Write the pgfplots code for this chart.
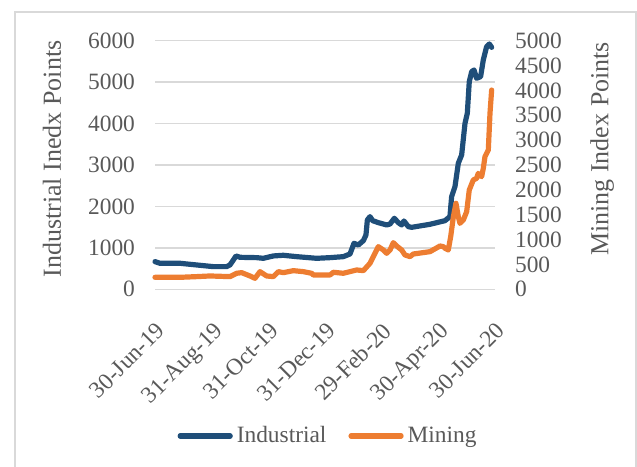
\documentclass[border=0pt]{standalone}
\usepackage{fontspec}
\setmainfont{Liberation Serif}
\usepackage{pgfplots}
\pgfplotsset{compat=1.18}
\definecolor{indblue}{HTML}{1F4E79}
\definecolor{minorange}{HTML}{ED7D31}
\definecolor{lblgrey}{HTML}{595959}
\definecolor{gridgrey}{HTML}{D9D9D9}

\begin{document}
\begin{tikzpicture}
\path[use as bounding box] (0,0) rectangle (318.5pt,233pt);
\draw[gridgrey, line width=1pt] (7.5pt,-5pt) rectangle (318pt,227pt);
\pgfplotsset{
  base/.style={
    scale only axis, width=170pt, height=124.3pt,
    at={(77.5pt,88.35pt)}, anchor=south west,
    xmin=0, xmax=366, ymin=0,
    axis line style={draw=none}, tick style={draw=none},
    ticklabel style={font=\fontsize{11.7}{14}\selectfont, text=lblgrey},
    /pgf/number format/assume math mode=true,
    /pgf/number format/1000 sep={},
    label style={font=\fontsize{13}{15}\selectfont, text=lblgrey},
    clip=false,
  },
  ser/.style={line width=2.6pt, line join=round, line cap=round, mark=none},
}
% left axis: Industrial
\begin{axis}[base,
  ymax=6000, ytick={0,1000,...,6000},
  ymajorgrids, grid style={gridgrey, line width=0.75pt},
  xtick={0,62,123,184,244,305,366},
  xticklabels={30-Jun-19,31-Aug-19,31-Oct-19,31-Dec-19,29-Feb-20,30-Apr-20,30-Jun-20},
  xticklabel style={yshift=-11pt, rotate=45, anchor=north east},
  yticklabel style={xshift=-6.5pt},
  ylabel={Industrial Inedx Points},
  ylabel style={at={(axis description cs:-0.303,0.524)}, anchor=center},
]
\addplot[ser, indblue] coordinates {
(0,668)(5.4,628)(26.9,628)(44.9,587)(62.8,547)(77.1,547)(80.7,587)(87.2,805)
(91.5,772)(109.4,764)(116.6,748)(127.4,805)(138.1,821)(152.5,788)(174,748)
(188.4,764)(202.7,788)(209.9,853)(214.2,1110)(218.9,1070)(224.3,1175)(227.1,1311)
(228.6,1673)(231.4,1754)(234.3,1657)(240.4,1609)(249.4,1553)(253,1577)(257.6,1714)
(261.9,1609)(265.5,1553)(268,1649)(272.7,1512)(276.3,1496)(296,1569)(312.2,1657)
(317.5,1754)(319.3,2236)(322.9,2478)(326.5,3041)(330.1,3242)(333.7,4006)(336.2,4248)
(338.3,5012)(340.9,5253)(343.4,5294)(346.2,5092)(350.5,5133)(353.4,5535)(357,5857)
(359.9,5921)(362.4,5840)};
\end{axis}
% right axis: Mining
\begin{axis}[base,
  axis x line=none, xtick=\empty,
  axis y line*=right,
  ymax=5000, ytick={0,500,...,5000},
  yticklabel style={xshift=6.5pt},
  ylabel={Mining Index Points},
  ylabel style={at={(axis description cs:1.315,0.565)}, anchor=center},
  legend image code/.code={\draw[#1] (0pt,0pt) -- (25pt,0pt);},
  legend style={at={(axis description cs:0.512,-0.59)}, anchor=center,
    draw=none, fill=none, legend columns=2,
    font=\fontsize{11.7}{14}\selectfont, text=lblgrey,
    /tikz/every even column/.append style={column sep=9pt},
    /tikz/every odd column/.append style={column sep=0pt}},
]
\addlegendimage{ser, indblue}
\addlegendentry{Industrial}
\addplot[ser, minorange] coordinates {
(0,241)(26.9,241)(44.9,255)(59.2,268)(80.7,255)(87.9,322)(93.3,335)(102.3,268)
(107.6,221)(113,355)(120.2,268)(127.4,255)(132.8,355)(138.1,335)(148.9,375)
(159.7,355)(168.6,322)(170.4,288)(188.4,288)(192,342)(202.7,322)(217.1,389)
(224.3,375)(231.4,523)(236.8,724)(240.4,858)(245.8,791)(249.4,724)(253,791)
(256.5,938)(260.1,871)(265.5,791)(269.1,690)(274.5,657)(278.1,710)(296,757)
(306.8,871)(310.4,858)(312.2,824)(315.7,791)(318.3,1059)(321.2,1461)(324,1729)
(326.5,1461)(328.3,1327)(331.9,1394)(335.5,1562)(338.3,1997)(342.6,2198)
(346.2,2232)(348,2332)(351.6,2265)(353.4,2433)(355.2,2667)(358.8,2801)
(360.6,3539)(362.4,4008)};
\addlegendentry{Mining}
\end{axis}
\end{tikzpicture}
\end{document}
